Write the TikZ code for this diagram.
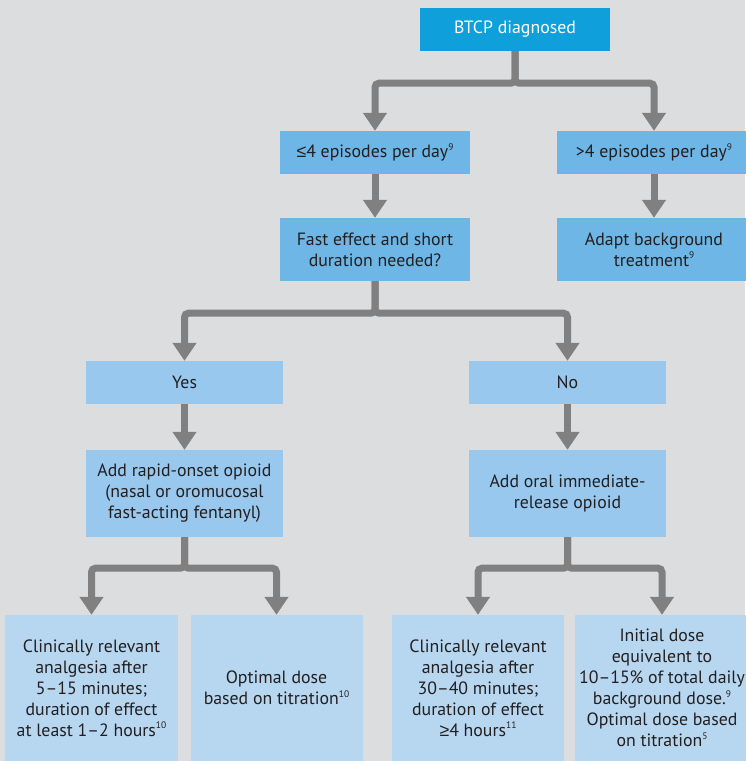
\documentclass[tikz,border=0pt]{standalone}
\usepackage{fontspec}
\setmainfont{PT Sans}
\newfontfamily\symf{Liberation Sans}
\usetikzlibrary{arrows.meta}
\definecolor{bgc}{HTML}{DCDDDF}
\definecolor{topc}{HTML}{0FA0DB}
\definecolor{midc}{HTML}{6DB6E5}
\definecolor{ync}{HTML}{98C8EE}
\definecolor{botc}{HTML}{B7D7F0}
\definecolor{linec}{HTML}{808080}
\definecolor{txtc}{HTML}{231F20}
\newcommand\supr[1]{\raisebox{0.42em}{\fontsize{9.5}{9.5}\selectfont #1}}
\newcommand\lesym{{\symf ≤}}
\newcommand\gesym{{\symf ≥}}
\tikzset{
  box/.style={rectangle, inner sep=0pt, align=center, text=txtc,
    font=\fontsize{17.8}{21}\selectfont},
  conn/.style={draw=linec, line width=7pt, rounded corners=4pt,
    -{Triangle[width=23pt,length=18pt]}},
}
\begin{document}
\begin{tikzpicture}[x=1pt,y=-1pt]
\useasboundingbox (0,0) rectangle (745,761);
\fill[bgc] (0,0) rectangle (745,761);
% nodes
\node[box, fill=topc, text=white, minimum width=190pt, minimum height=43pt] (top) at (515,29.5) {BTCP diagnosed};
\node[box, fill=midc, minimum width=190pt, minimum height=43pt] (le4) at (375,152.5) {\lesym4 episodes per day\supr{9}};
\node[box, fill=midc, minimum width=194pt, minimum height=43pt] (gt4) at (654,152.5) {>4 episodes per day\supr{9}};
\node[box, fill=midc, minimum width=190pt, minimum height=63pt] (fast) at (375,249.5) {Fast effect and short\\duration needed?};
\node[box, fill=midc, minimum width=194pt, minimum height=63pt] (adapt) at (654,249.5) {Adapt background\\treatment\supr{9}};
\node[box, fill=ync, minimum width=197pt, minimum height=43pt] (yes) at (184.5,382.5) {Yes};
\node[box, fill=ync, minimum width=197pt, minimum height=43pt] (no) at (567.5,382.5) {No};
\node[box, fill=ync, minimum width=197pt, minimum height=87pt] (rapid) at (184.5,493.5) {Add rapid-onset opioid\\(nasal or oromucosal\\fast-acting fentanyl)};
\node[box, fill=ync, minimum width=197pt, minimum height=87pt] (oral) at (567.5,493.5) {Add oral immediate-\\release opioid};
\node[box, fill=botc, minimum width=173pt, minimum height=146pt] (b1) at (91.5,688) {Clinically relevant\\analgesia after\\5–15 minutes;\\duration of effect\\at least 1–2 hours\supr{10}};
\node[box, fill=botc, minimum width=172pt, minimum height=146pt] (b2) at (276.5,688) {Optimal dose\\based on titration\supr{10}};
\node[box, fill=botc, minimum width=172pt, minimum height=146pt] (b3) at (478,688) {Clinically relevant\\analgesia after\\30–40 minutes;\\duration of effect\\\gesym4 hours\supr{11}};
\node[box, fill=botc, minimum width=174pt, minimum height=146pt] (b4) at (662,688) {Initial dose\\equivalent to\\10–15\% of total daily\\background dose.\supr{9}\\Optimal dose based\\on titration\supr{5}};
% connectors
\draw[conn] (top.south) -- ++(0,32) -| (le4.north);
\draw[conn] (top.south) -- ++(0,32) -| (gt4.north);
\draw[conn] (le4.south) -- (fast.north);
\draw[conn] (gt4.south) -- (adapt.north);
\draw[conn] (fast.south) -- ++(0,32) -| (yes.north);
\draw[conn] (fast.south) -- ++(0,32) -| (no.north);
\draw[conn] (yes.south) -- (rapid.north);
\draw[conn] (no.south) -- (oral.north);
\draw[conn] (rapid.south) -- ++(0,31) -| (b1.north);
\draw[conn] (rapid.south) -- ++(0,31) -| (b2.north);
\draw[conn] (oral.south) -- ++(0,31) -| (b3.north);
\draw[conn] (oral.south) -- ++(0,31) -| (b4.north);
\end{tikzpicture}
\end{document}
